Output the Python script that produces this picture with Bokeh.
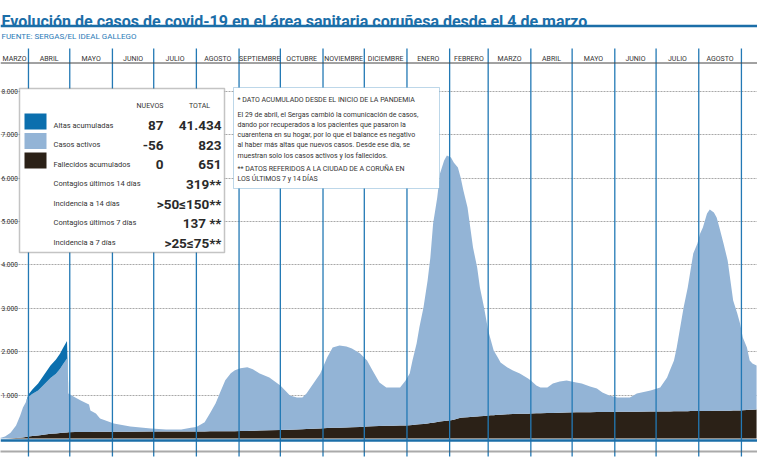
import numpy as np
import pandas as pd
from bokeh.plotting import figure
from bokeh.models import Range1d, BoxAnnotation, Label, Span, Grid, FixedTicker, ColumnDataSource
from bokeh.core.properties import value
from bokeh.embed import file_html
from bokeh.resources import INLINE

# ------------------------------------------------------------------ data
dates = [
    "2020-03-04", "2020-03-12", "2020-03-15", "2020-03-19", "2020-03-23", "2020-03-26", "2020-03-28",
    "2020-03-30", "2020-04-01", "2020-04-04", "2020-04-08", "2020-04-12", "2020-04-17", "2020-04-21",
    "2020-04-24", "2020-04-26", "2020-04-29", "2020-04-30", "2020-05-05", "2020-05-09", "2020-05-12",
    "2020-05-15", "2020-05-16", "2020-05-20", "2020-05-23", "2020-05-27", "2020-05-31", "2020-06-02",
    "2020-06-14", "2020-06-29", "2020-07-10", "2020-07-21", "2020-07-28", "2020-08-01", "2020-08-07",
    "2020-08-11", "2020-08-15", "2020-08-18", "2020-08-22", "2020-08-26", "2020-08-29", "2020-09-02",
    "2020-09-07", "2020-09-11", "2020-09-16", "2020-09-23", "2020-10-01", "2020-10-08", "2020-10-13",
    "2020-10-17", "2020-10-20", "2020-10-25", "2020-10-30", "2020-11-04", "2020-11-08", "2020-11-13",
    "2020-11-18", "2020-11-22", "2020-11-28", "2020-12-03", "2020-12-07", "2020-12-12", "2020-12-17",
    "2020-12-22", "2020-12-27", "2020-12-31", "2021-01-03", "2021-01-05", "2021-01-08", "2021-01-10",
    "2021-01-13", "2021-01-16", "2021-01-18", "2021-01-20", "2021-01-23", "2021-01-25", "2021-01-28",
    "2021-01-30", "2021-02-02", "2021-02-04", "2021-02-07", "2021-02-09", "2021-02-11", "2021-02-14",
    "2021-02-16", "2021-02-18", "2021-02-21", "2021-02-23", "2021-02-26", "2021-03-01", "2021-03-03",
    "2021-03-05", "2021-03-08", "2021-03-10", "2021-03-15", "2021-03-19", "2021-03-24", "2021-03-30",
    "2021-04-01", "2021-04-05", "2021-04-08", "2021-04-13", "2021-04-17", "2021-04-22", "2021-04-27",
    "2021-05-04", "2021-05-08", "2021-05-14", "2021-05-19", "2021-05-23", "2021-05-28", "2021-06-03",
    "2021-06-12", "2021-06-17", "2021-06-27", "2021-07-04", "2021-07-09", "2021-07-11", "2021-07-14",
    "2021-07-16", "2021-07-19", "2021-07-21", "2021-07-24", "2021-07-26", "2021-07-28", "2021-07-31",
    "2021-08-02", "2021-08-04", "2021-08-07", "2021-08-09", "2021-08-12", "2021-08-14", "2021-08-16",
    "2021-08-19", "2021-08-22", "2021-08-24", "2021-08-26", "2021-08-29", "2021-08-31", "2021-09-02",
    "2021-09-05", "2021-09-07", "2021-09-09", "2021-09-12",
]
fallecidos = [
    0, 0, 0, 5, 10, 16, 25,
    33, 46, 57, 71, 88, 108, 117,
    127, 132, 140, 142, 147, 149, 150,
    151, 152, 153, 155, 155, 156, 156,
    158, 159, 160, 160, 162, 163, 164,
    165, 166, 166, 167, 168, 168, 170,
    175, 178, 182, 188, 196, 204, 210,
    215, 218, 224, 230, 240, 245, 250,
    255, 260, 267, 276, 282, 288, 293,
    296, 299, 300, 305, 310, 320, 327,
    333, 346, 355, 365, 380, 393, 405,
    410, 420, 430, 460, 477, 485, 492,
    497, 502, 508, 513, 518, 528, 533,
    538, 545, 549, 558, 563, 569, 573,
    576, 580, 583, 586, 589, 593, 597,
    602, 604, 607, 609, 611, 613, 615,
    617, 618, 620, 623, 625, 625, 626,
    627, 628, 629, 630, 631, 631, 632,
    633, 634, 635, 636, 637, 638, 639,
    640, 641, 642, 643, 644, 645, 650,
    655, 660, 663, 668,
]
activos = [
    0, 20, 45, 130, 290, 515, 690,
    795, 915, 975, 1035, 1145, 1285, 1375,
    1480, 1575, 1705, 895, 800, 725, 680,
    630, 495, 425, 305, 260, 215, 190,
    120, 70, 45, 45, 85, 100, 210,
    420, 645, 875, 1175, 1335, 1405, 1450,
    1465, 1415, 1315, 1215, 1025, 785, 735,
    730, 820, 1045, 1270, 1625, 1850, 1895,
    1865, 1815, 1690, 1520, 1285, 1000, 880,
    880, 875, 1035, 1195, 1485, 1870, 2230,
    2685, 3295, 3815, 4590, 5175, 5715, 6000,
    6110, 6055, 5930, 5785, 5535, 5230, 4830,
    4365, 3900, 3430, 2965, 2500, 1960, 1725,
    1490, 1320, 1200, 1080, 1005, 930, 810,
    760, 640, 590, 590, 680, 720, 740,
    690, 665, 590, 545, 450, 380, 330,
    330, 420, 485, 550, 780, 940, 1170,
    1470, 2020, 2390, 2850, 3240, 3630, 3860,
    4090, 4225, 4550, 4640, 4570, 4455, 4220,
    3855, 3460, 3000, 2535, 2235, 2005, 1675,
    1440, 1135, 1065, 1015,
]
altas = [0] * len(dates)
altas_first_wave = {
    "2020-04-01": 50, "2020-04-04": 100, "2020-04-08": 160, "2020-04-12": 220,
    "2020-04-17": 290, "2020-04-21": 330, "2020-04-24": 350, "2020-04-26": 370,
    "2020-04-29": 400,
}
for _d, _v in altas_first_wave.items():
    altas[dates.index(_d)] = _v

month_starts = [
    "2020-03-01", "2020-04-01", "2020-05-01", "2020-06-01", "2020-07-01", "2020-08-01",
    "2020-09-01", "2020-10-01", "2020-11-01", "2020-12-01", "2021-01-01", "2021-02-01",
    "2021-03-01", "2021-04-01", "2021-05-01", "2021-06-01", "2021-07-01", "2021-08-01",
    "2021-09-01",
]
month_names = [
    "MARZO", "ABRIL", "MAYO", "JUNIO", "JULIO", "AGOSTO", "SEPTIEMBRE", "OCTUBRE",
    "NOVIEMBRE", "DICIEMBRE", "ENERO", "FEBRERO", "MARZO", "ABRIL", "MAYO", "JUNIO",
    "JULIO", "AGOSTO",
]

y_ticks = [1000, 2000, 3000, 4000, 5000, 6000, 7000, 8000]
y_tick_labels = ["1.000", "2.000", "3.000", "4.000", "5.000", "6.000", "7.000", "8.000"]

title_text = "Evolución de casos de covid-19 en el área sanitaria coruñesa desde el 4 de marzo"
source_text = "FUENTE: SERGAS/EL IDEAL GALLEGO"

legend_labels = [
    "Altas acumuladas", "Casos activos", "Fallecidos acumulados",
    "Contagios últimos 14 días", "Incidencia a 14 días",
    "Contagios últimos 7 días", "Incidencia a 7 días",
]
legend_nuevos = ["87", "-56", "0"]
legend_totales = ["41.434", "823", "651", "319**", ">50≤150**", "137 **", ">25≤75**"]

note_lines = [
    "* DATO ACUMULADO DESDE EL INICIO DE LA PANDEMIA",
    "El 29 de abril, el Sergas cambió la comunicación de casos,",
    "dando por recuperados a los pacientes que pasaron la",
    "cuarentena en su hogar, por lo que el balance es negativo",
    "al haber más altas que nuevos casos. Desde ese día, se",
    "muestran solo los casos activos y los fallecidos.",
    "** DATOS REFERIDOS A LA CIUDAD DE A CORUÑA EN",
    "LOS ÚLTIMOS 7 y 14 DÍAS",
]

# ------------------------------------------------------------------ styles
C_ALTAS = "#0b6fae"
C_ACTIVOS = "#93b4d6"
C_FALLEC = "#2b2117"
C_BLUE = "#1b6ea8"
C_LINE = "#2379b5"
FONT = "Roboto"

# ------------------------------------------------------------------ layout helpers
W, H = 757, 463
REF_W, REF_H = 757, 463
DAY = 86400000.0
t0 = pd.Timestamp("2020-03-01").value / 1e6
x_start = t0 + 10.68 * DAY
x_end = x_start + 550.0 * DAY
y_top, y_bot = 10092.0, -576.0


def XD(rx):
    return x_start + (x_end - x_start) * rx / REF_W


def YD(ry):
    return y_top - (y_top - y_bot) * ry / REF_H


p = figure(width=W, height=H, x_range=Range1d(x_start, x_end), y_range=Range1d(y_bot, y_top),
           x_axis_type=None, y_axis_type=None, toolbar_location=None, output_backend="svg",
           min_border=0, outline_line_color=None, background_fill_color="white",
           border_fill_color="white")

# grid
p.add_layout(Grid(dimension=1, ticker=FixedTicker(ticks=y_ticks), grid_line_color="#a8a8a8",
                  grid_line_dash="2 1", grid_line_width=1))

# stacked areas
f = np.array(fallecidos, dtype=float)
a = np.array(activos, dtype=float)
al = np.array(altas, dtype=float)
dt = pd.to_datetime(dates)
src = ColumnDataSource(dict(x=dt, zero=np.zeros(len(f)), f=f, fa=f + a))
p.varea(x="x", y1="zero", y2="f", source=src, fill_color=C_FALLEC)
p.varea(x="x", y1="f", y2="fa", source=src, fill_color=C_ACTIVOS)
nz = np.nonzero(al)[0]
i0, i1 = max(nz[0] - 1, 0), nz[-1] + 2
src_al = ColumnDataSource(dict(x=dt[i0:i1], lo=(f + a)[i0:i1], hi=(f + a + al)[i0:i1]))
p.varea(x="x", y1="lo", y2="hi", source=src_al, fill_color=C_ALTAS)

# month separator lines
ms = pd.to_datetime(month_starts)
p.segment(x0=ms[1:], x1=ms[1:], y0=YD(456), y1=YD(48), line_color=C_LINE, line_width=1.3)

# month labels (centred in the visible part of each month)
ms_ms = [t.value / 1e6 for t in ms]
centers = [(max(ms_ms[i], XD(0)) + ms_ms[i + 1]) / 2 for i in range(len(month_names))]
p.text(x=centers, y=YD(58), text=month_names, text_font=value(FONT), text_font_size="7px",
       text_align="center", text_baseline="alphabetic", text_color="#333333")

# y tick labels
p.text(x=XD(1), y=y_ticks, text=y_tick_labels, text_font=value(FONT), text_font_size="6.5px",
       text_align="left", text_baseline="middle", text_color="#333333")

# rules
p.add_layout(Span(location=YD(25.5), dimension="width", line_color=C_BLUE, line_width=2.5))
p.add_layout(Span(location=YD(62.5), dimension="width", line_color="#444444", line_width=1))
p.add_layout(Span(location=YD(440), dimension="width", line_color=C_BLUE, line_width=2.5))
p.add_layout(Span(location=YD(451), dimension="width", line_color="#555555", line_width=2,
                  line_dash="1 1"))

# title / source
p.add_layout(Label(x=XD(1), y=YD(21), text=title_text, text_font=FONT, text_font_style="bold",
                   text_font_size="16px", text_color=C_BLUE, text_baseline="alphabetic"))
p.add_layout(Label(x=XD(1), y=YD(36), text=source_text, text_font=FONT, text_font_size="8px",
                   text_color="#2a7bb8", text_baseline="alphabetic"))

# legend box
p.add_layout(BoxAnnotation(left=XD(19), right=XD(224), top=YD(88), bottom=YD(252),
                           fill_color="white", fill_alpha=1, line_color="#3a3a3a", line_width=1.5))
p.add_layout(Label(x=XD(163), y=YD(105), text="NUEVOS", text_font=FONT, text_font_size="7px",
                   text_color="#333333", text_align="right", text_baseline="alphabetic"))
p.add_layout(Label(x=XD(199), y=YD(105), text="TOTAL", text_font=FONT, text_font_size="7px",
                   text_color="#333333", text_align="center", text_baseline="alphabetic"))
row_base, row_step = 125.0, 19.5
for i, c in enumerate([C_ALTAS, C_ACTIVOS, C_FALLEC]):
    p.add_layout(BoxAnnotation(left=XD(24), right=XD(46), top=YD(113 + row_step * i),
                               bottom=YD(129 + row_step * i), fill_color=c, fill_alpha=1,
                               line_color=None))
for i, lab in enumerate(legend_labels):
    p.add_layout(Label(x=XD(53), y=YD(row_base + row_step * i - 0.5), text=lab, text_font=FONT,
                       text_font_size="7.5px", text_color="#333333", text_baseline="alphabetic"))
for i, v in enumerate(legend_nuevos):
    p.add_layout(Label(x=XD(163), y=YD(row_base + row_step * i), text=v, text_font=FONT,
                       text_font_style="bold", text_font_size="13.5px", text_color="#2a2a2a",
                       text_align="right", text_baseline="alphabetic"))
for i, v in enumerate(legend_totales):
    p.add_layout(Label(x=XD(221), y=YD(row_base + row_step * i), text=v, text_font=FONT,
                       text_font_style="bold", text_font_size="13.5px", text_color="#2a2a2a",
                       text_align="right", text_baseline="alphabetic"))

# note box
p.add_layout(BoxAnnotation(left=XD(233), right=XD(439), top=YD(87), bottom=YD(188),
                           fill_color="white", fill_alpha=1, line_color=C_LINE, line_width=1))
note_base = [99.5, 114, 124.3, 134.6, 144.9, 155.2, 168, 178]
for txt, b in zip(note_lines, note_base):
    p.add_layout(Label(x=XD(237), y=YD(b), text=txt, text_font=FONT, text_font_size="7px",
                       text_color="#333333", text_baseline="alphabetic"))

open("out.html", "w").write(file_html(p, INLINE))
